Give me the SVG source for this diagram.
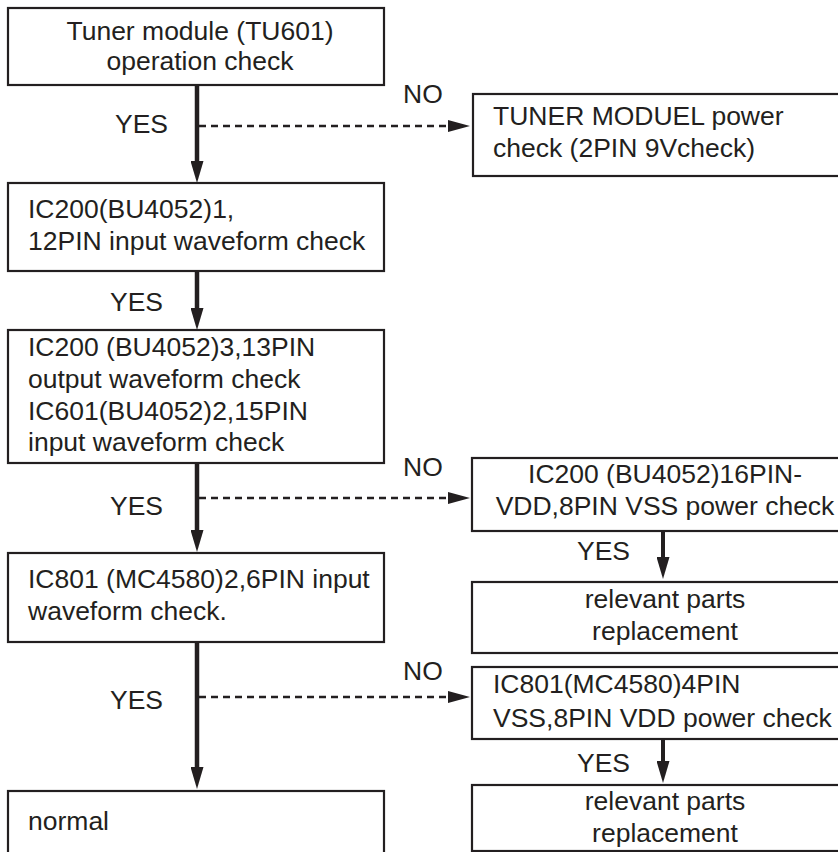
<svg xmlns="http://www.w3.org/2000/svg" width="838" height="852" viewBox="0 0 838 852">
  <style>
    .box { fill: #ffffff; stroke: #231f20; stroke-width: 2.2; }
    .t { font-family: "Liberation Sans", Arial, sans-serif; font-size: 26.5px; fill: #231f20; }
    .c { text-anchor: middle; }
    .main { stroke: #231f20; stroke-width: 4.5; fill: none; }
    .small { stroke: #231f20; stroke-width: 4; fill: none; }
    .dash { stroke: #231f20; stroke-width: 2.4; stroke-dasharray: 7 5; fill: none; }
  </style>
  <defs>
    <marker id="headMain" markerUnits="userSpaceOnUse" markerWidth="22" markerHeight="13" viewBox="0 0 22 13" refX="10" refY="6.5" orient="auto">
      <path d="M0,0 L22,6.5 L0,13 Z" fill="#231f20"/>
    </marker>
    <marker id="headDash" markerUnits="userSpaceOnUse" markerWidth="22" markerHeight="12" viewBox="0 0 22 12" refX="12" refY="6" orient="auto">
      <path d="M0,0 L22,6 L0,12 Z" fill="#231f20"/>
    </marker>
  </defs>
  <rect width="838" height="852" fill="#ffffff"/>

  <g id="connectors">
    <line class="main" x1="197" y1="85" x2="197" y2="171" marker-end="url(#headMain)"/>
    <line class="dash" x1="199" y1="126" x2="460" y2="126" marker-end="url(#headDash)"/>
    <line class="main" x1="197" y1="271" x2="197" y2="318" marker-end="url(#headMain)"/>
    <line class="main" x1="197" y1="463" x2="197" y2="540" marker-end="url(#headMain)"/>
    <line class="dash" x1="199" y1="498" x2="460" y2="498" marker-end="url(#headDash)"/>
    <line class="main" x1="197" y1="642" x2="197" y2="777" marker-end="url(#headMain)"/>
    <line class="dash" x1="199" y1="697" x2="460" y2="697" marker-end="url(#headDash)"/>
    <line class="small" x1="663" y1="531" x2="663" y2="567" marker-end="url(#headMain)"/>
    <line class="small" x1="663" y1="739" x2="663" y2="771" marker-end="url(#headMain)"/>
    <text class="t" x="115" y="133">YES</text>
    <text class="t" x="403" y="103">NO</text>
    <text class="t" x="110" y="311">YES</text>
    <text class="t" x="110" y="515">YES</text>
    <text class="t" x="403" y="476">NO</text>
    <text class="t" x="110" y="709">YES</text>
    <text class="t" x="403" y="680">NO</text>
    <text class="t" x="577" y="560">YES</text>
    <text class="t" x="577" y="772">YES</text>
  </g>

  <g id="n1">
    <rect class="box" x="8" y="8" width="376" height="77"/>
    <text class="t c" x="200" y="40">Tuner module (TU601)</text>
    <text class="t c" x="200" y="70">operation check</text>
  </g>
  <g id="n2">
    <rect class="box" x="473" y="94" width="380" height="82"/>
    <text class="t" x="493" y="125">TUNER MODUEL power</text>
    <text class="t" x="493" y="157">check (2PIN 9Vcheck)</text>
  </g>
  <g id="n3">
    <rect class="box" x="8" y="183" width="376" height="88"/>
    <text class="t" x="28" y="218">IC200(BU4052)1,</text>
    <text class="t" x="28" y="250">12PIN input waveform check</text>
  </g>
  <g id="n4">
    <rect class="box" x="8" y="330" width="376" height="133"/>
    <text class="t" x="28" y="356">IC200 (BU4052)3,13PIN</text>
    <text class="t" x="28" y="388">output waveform check</text>
    <text class="t" x="28" y="420">IC601(BU4052)2,15PIN</text>
    <text class="t" x="28" y="451">input waveform check</text>
  </g>
  <g id="n5">
    <rect class="box" x="472" y="458" width="390" height="73"/>
    <text class="t c" x="665" y="483">IC200 (BU4052)16PIN-</text>
    <text class="t c" x="665" y="515">VDD,8PIN VSS power check</text>
  </g>
  <g id="n6">
    <rect class="box" x="8" y="553" width="376" height="89"/>
    <text class="t" x="28" y="588">IC801 (MC4580)2,6PIN input</text>
    <text class="t" x="28" y="620">waveform check.</text>
  </g>
  <g id="n7">
    <rect class="box" x="472" y="582" width="390" height="71"/>
    <text class="t c" x="665" y="608">relevant parts</text>
    <text class="t c" x="665" y="640">replacement</text>
  </g>
  <g id="n8">
    <rect class="box" x="472" y="667" width="390" height="72"/>
    <text class="t" x="493" y="693">IC801(MC4580)4PIN</text>
    <text class="t" x="493" y="727">VSS,8PIN VDD power check</text>
  </g>
  <g id="n9">
    <rect class="box" x="8" y="791" width="376" height="80"/>
    <text class="t" x="28" y="830">normal</text>
  </g>
  <g id="n10">
    <rect class="box" x="472" y="785" width="390" height="66"/>
    <text class="t c" x="665" y="810">relevant parts</text>
    <text class="t c" x="665" y="842">replacement</text>
  </g>
</svg>
